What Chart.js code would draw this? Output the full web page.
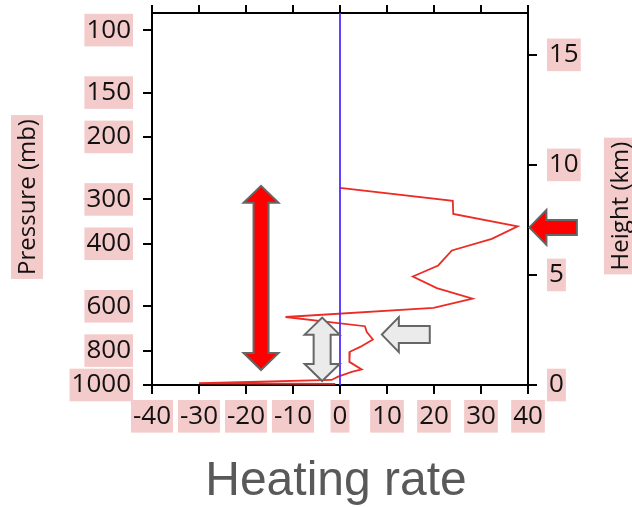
<!DOCTYPE html>
<html>
<head>
<meta charset="utf-8">
<script src="https://cdn.jsdelivr.net/npm/chart.js@4.4.1/dist/chart.umd.min.js"></script>
<style>
  html, body { margin: 0; padding: 0; background: #fff; }
  #wrap { width: 632px; height: 507px; position: relative; }
</style>
</head>
<body>
<div id="wrap"><canvas id="heatChart"></canvas></div>
<script>
// profile of heating rate vs height
const heatingRate = [0, 24.0, 24.1, 37.8, 32.3, 23.8, 20.9, 15.5, 20.6, 28.2, 19.9, -11.6, 5.3, 5.7, 7.0, 4.3, 2.1, 2.0, 4.6, 2.5, -0.4, -1.8, -30, -1];
const heightKm = [8.96, 8.37, 7.77, 7.21, 6.64, 6.11, 5.43, 4.93, 4.40, 3.92, 3.50, 3.09, 2.67, 2.41, 2.07, 1.73, 1.51, 1.05, 0.71, 0.60, 0.38, 0.23, 0.08, 0.05];

// axis ticks
const rateTicks = [-40, -30, -20, -10, 0, 10, 20, 30, 40];
const pressureTicks = [100, 150, 200, 300, 400, 600, 800, 1000];
const heightTicks = [0, 5, 10, 15];

// arrows, in data units (rate, km)
const arrowFrom = [[-16.8, 0.68], [-3.8, 0.18], [19.1, 2.29], [50.4, 7.16]];
const arrowTo = [[-16.8, 9.05], [-3.8, 3.06], [8.9, 2.29], [40.3, 7.16]];
const arrowBoth = [true, true, false, false];
const arrowFill = ['#ff0000', '#ebebeb', '#ebebeb', '#ff0000'];

const pink = '#f4cbcb';
const tickFont = { family: '"Open Sans", sans-serif', size: 26, lineHeight: 1.1 };

const curve = heatingRate.map((v, i) => ({ x: v, y: heightKm[i] }));
const zeroLine = [{ x: 0, y: 0 }, { x: 0, y: 16.9 }];

function drawArrow(ctx, x1, y1, x2, y2, sw, hw, hl, both) {
    const len = Math.hypot(x2 - x1, y2 - y1);
    const ux = (x2 - x1) / len, uy = (y2 - y1) / len;
    const nx = -uy, ny = ux;
    const P = (px, py, a, b) => [px + ux * a + nx * b, py + uy * a + ny * b];
    let pts = [];
    if (both) {
        pts.push([x1, y1]);
        pts.push(P(x1, y1, hl, hw / 2));
        pts.push(P(x1, y1, hl, sw / 2));
    } else {
        pts.push(P(x1, y1, 0, sw / 2));
    }
    pts.push(P(x2, y2, -hl, sw / 2));
    pts.push(P(x2, y2, -hl, hw / 2));
    pts.push([x2, y2]);
    pts.push(P(x2, y2, -hl, -hw / 2));
    pts.push(P(x2, y2, -hl, -sw / 2));
    if (both) {
        pts.push(P(x1, y1, hl, -sw / 2));
        pts.push(P(x1, y1, hl, -hw / 2));
    } else {
        pts.push(P(x1, y1, 0, -sw / 2));
    }
    ctx.beginPath();
    pts.forEach((p, i) => i ? ctx.lineTo(p[0], p[1]) : ctx.moveTo(p[0], p[1]));
    ctx.closePath();
    ctx.fill();
    ctx.stroke();
}

const arrowsPlugin = {
    id: 'arrows',
    afterDraw(chart) {
        const ctx = chart.ctx;
        const xs = chart.scales.x, ys = chart.scales.yH;
        ctx.save();
        ctx.strokeStyle = '#666';
        ctx.lineWidth = 2;
        ctx.lineJoin = 'miter';
        for (let i = 0; i < arrowFrom.length; i++) {
            const x1 = xs.getPixelForValue(arrowFrom[i][0]), y1 = ys.getPixelForValue(arrowFrom[i][1]);
            const x2 = xs.getPixelForValue(arrowTo[i][0]), y2 = ys.getPixelForValue(arrowTo[i][1]);
            ctx.fillStyle = arrowFill[i];
            const big = i === 0 || i === 3;
            drawArrow(ctx, x1, y1, x2, y2, big ? 15 : 17, 35, 17, arrowBoth[i]);
        }
        ctx.restore();
    }
};

// axis titles with pink boxes
const titlesPlugin = {
    id: 'titles',
    afterDraw(chart) {
        const ctx = chart.ctx;
        const side = (text, cx, cy) => {
            ctx.save();
            ctx.translate(cx, cy);
            ctx.rotate(-Math.PI / 2);
            ctx.font = '24px "Open Sans", sans-serif';
            const w = ctx.measureText(text).width;
            ctx.fillStyle = pink;
            ctx.fillRect(-w / 2 - 4, -16, w + 8, 32);
            ctx.fillStyle = '#111';
            ctx.textAlign = 'center';
            ctx.textBaseline = 'middle';
            ctx.fillText(text, 0, 1);
            ctx.restore();
        };
        side('Pressure (mb)', 27, 197);
        side('Height (km)', 620, 206);

        ctx.save();
        ctx.font = '48px "Liberation Sans", Arial, sans-serif';
        ctx.fillStyle = '#595959';
        ctx.textAlign = 'center';
        ctx.textBaseline = 'alphabetic';
        ctx.fillText('Heating rate', 336, 495);
        ctx.restore();
    }
};

const axisGrid = { drawOnChartArea: false, color: '#000', lineWidth: 2, tickLength: 9 };
const axisBorder = { color: '#000', width: 2 };
const noPadY = s => { s.paddingTop = 0; s.paddingBottom = 0; };
const noPadX = s => { s.paddingLeft = 0; s.paddingRight = 0; };

const ctx = document.getElementById('heatChart').getContext('2d');
new Chart(ctx, {
    type: 'scatter',
    data: {
        datasets: [{
            data: zeroLine,
            showLine: true,
            borderColor: '#4f2cff',
            borderWidth: 1.8,
            pointRadius: 0,
            yAxisID: 'yH'
        }, {
            data: curve,
            showLine: true,
            borderColor: '#ec2b25',
            borderWidth: 1.8,
            pointRadius: 0,
            tension: 0,
            yAxisID: 'yH'
        }]
    },
    options: {
        responsive: true,
        maintainAspectRatio: false,
        animation: false,
        layout: { padding: { top: 13, left: 0, right: 0, bottom: 0 } },
        plugins: { legend: { display: false }, tooltip: { enabled: false } },
        scales: {
            x: {
                type: 'linear',
                position: 'bottom',
                min: -40,
                max: 40,
                afterBuildTicks: s => { s.ticks = rateTicks.map(v => ({ value: v })); },
                afterFit: s => { s.height = 122; noPadX(s); },
                grid: axisGrid,
                border: axisBorder,
                ticks: {
                    color: '#111', font: tickFont, padding: 8,
                    showLabelBackdrop: true, backdropColor: pink, backdropPadding: 2,
                    maxRotation: 0, autoSkip: false
                }
            },
            x2: {
                type: 'linear',
                position: 'top',
                min: -40,
                max: 40,
                afterBuildTicks: s => { s.ticks = rateTicks.map(v => ({ value: v })); },
                afterFit: s => { s.height = 0; noPadX(s); },
                grid: { drawOnChartArea: false, color: '#000', lineWidth: 2, tickLength: 8 },
                border: axisBorder,
                ticks: { display: false }
            },
            yP: {
                type: 'logarithmic',
                position: 'left',
                reverse: true,
                min: 89.5,
                max: 1000,
                afterBuildTicks: s => { s.ticks = pressureTicks.map(v => ({ value: v })); },
                afterFit: s => { s.width = 152; noPadY(s); },
                grid: axisGrid,
                border: axisBorder,
                ticks: {
                    color: '#111', font: tickFont, padding: 12,
                    callback: v => String(v),
                    showLabelBackdrop: true, backdropColor: pink, backdropPadding: 2,
                    autoSkip: false
                }
            },
            yH: {
                type: 'linear',
                position: 'right',
                min: 0,
                max: 16.9,
                afterBuildTicks: s => { s.ticks = heightTicks.map(v => ({ value: v })); },
                afterFit: s => { s.width = 104; noPadY(s); },
                grid: axisGrid,
                border: axisBorder,
                ticks: {
                    color: '#111', font: tickFont, padding: 12,
                    showLabelBackdrop: true, backdropColor: pink, backdropPadding: 2,
                    autoSkip: false
                }
            }
        }
    },
    plugins: [arrowsPlugin, titlesPlugin]
});
</script>
</body>
</html>
